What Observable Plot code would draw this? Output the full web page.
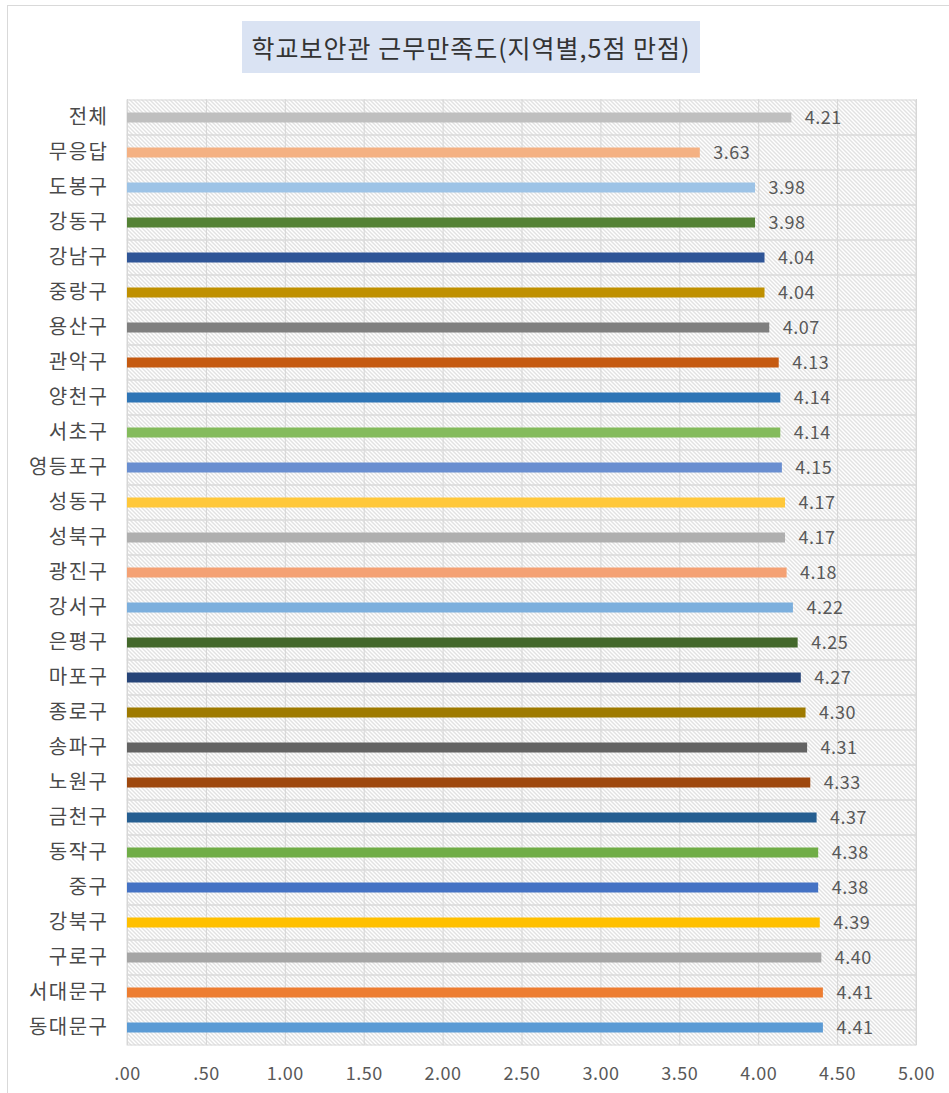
<!DOCTYPE html>
<html>
<head>
<meta charset="utf-8">
<script src="https://cdn.jsdelivr.net/npm/d3@7"></script>
<script src="https://cdn.jsdelivr.net/npm/@observablehq/plot@0.6"></script>
<style>
  html, body { margin: 0; padding: 0; background: #fff; }
  #wrap { position: relative; width: 949px; height: 1093px; overflow: hidden; font-family: "Noto Sans CJK KR", "Noto Sans", sans-serif; }
  #border { position: absolute; left: 7px; top: 5px; width: 960px; height: 1100px; border: 1px solid #d9d9d9; box-sizing: border-box; }
  #title { position: absolute; left: 242px; top: 21px; width: 458px; height: 52px; background: #dae3f3; color: #333; font-size: 25px; letter-spacing: 1px; line-height: 52px; text-align: center; white-space: nowrap; }
  #chart { position: absolute; left: 0; top: 90px; }
  #chart svg g[aria-label="y-axis tick label"] text { letter-spacing: 1.5px; }
  #chart svg g[aria-label="x-axis tick label"] text { letter-spacing: 0.5px; }
  #chart svg g[aria-label="text"] text { letter-spacing: 0.5px; }
</style>
</head>
<body>
<div id="wrap">
  <div id="border"></div>
  <div id="title">학교보안관 근무만족도(지역별,5점 만점)</div>
  <div id="chart"></div>
</div>
<script>
const categories = ["전체","무응답","도봉구","강동구","강남구","중랑구","용산구","관악구","양천구","서초구","영등포구","성동구","성북구","광진구","강서구","은평구","마포구","종로구","송파구","노원구","금천구","동작구","중구","강북구","구로구","서대문구","동대문구"];
const values = [4.21,3.63,3.98,3.98,4.04,4.04,4.07,4.13,4.14,4.14,4.15,4.17,4.17,4.18,4.22,4.25,4.27,4.30,4.31,4.33,4.37,4.38,4.38,4.39,4.40,4.41,4.41];
const colors = ["#bfbfbf","#f4b183","#9dc3e6","#548235","#2f5597","#bf9000","#7f7f7f","#c55a11","#2e75b6","#84bb5c","#698ed0","#ffc83a","#afafaf","#f4a174","#7cafdd","#43682b","#264478","#9e7a00","#636363","#9e480e","#255e91","#70ad47","#4472c4","#ffc000","#a5a5a5","#ed7d31","#5b9bd5"];
const xTicks = [0,0.5,1,1.5,2,2.5,3,3.5,4,4.5,5];
const xTickLabels = [".00",".50","1.00","1.50","2.00","2.50","3.00","3.50","4.00","4.50","5.00"];

const data = categories.map((c, i) => ({name: c, value: values[i], color: colors[i]}));

const chart = Plot.plot({
  width: 949,
  height: 1003,
  marginLeft: 127,
  marginRight: 33,
  marginTop: 9,
  marginBottom: 48,
  style: {fontFamily: '"Noto Sans CJK KR", "Noto Sans", sans-serif', background: "transparent"},
  x: {domain: [0, 5], ticks: xTicks, tickFormat: (d) => xTickLabels[xTicks.indexOf(d)], label: null},
  y: {domain: categories, padding: 0, label: null},
  marks: [
    Plot.frame({fill: "url(#hatch)", stroke: "none"}),
    Plot.gridX(xTicks, {stroke: "#d4d4d4", strokeOpacity: 1, strokeWidth: 1}),
    Plot.barX(data, {y: "name", x1: () => 0, x2: () => 5, fill: "none", stroke: "#d9d9d9", strokeWidth: 1}),
    Plot.barX(data, {y: "name", x: "value", fill: "color", insetTop: 12.5, insetBottom: 12.5}),
    Plot.text(data, {y: "name", x: "value", text: d => d.value.toFixed(2), dx: 13, textAnchor: "start", fill: "#595959", fontSize: 18}),
    Plot.axisX({ticks: xTicks, tickFormat: (d) => xTickLabels[xTicks.indexOf(d)], tickSize: 0, tickPadding: 22, fontSize: 18, color: "#595959"}),
    Plot.axisY({tickSize: 0, tickPadding: 19, fontSize: 20, color: "#4a4a4a"})
  ]
});

// add hatch pattern definition
const svg = d3.select(chart);
const defs = svg.insert("defs", ":first-child");
const pat = defs.append("pattern").attr("id", "hatch").attr("patternUnits", "userSpaceOnUse").attr("width", 4).attr("height", 4);
pat.append("rect").attr("width", 4).attr("height", 4).attr("fill", "#ffffff");
pat.append("path").attr("d", "M-1,-1 L5,5 M-1,3 L1,5 M3,-1 L5,1").attr("stroke", "#c4c4c4").attr("stroke-width", 1);

document.getElementById("chart").appendChild(chart);
</script>
</body>
</html>
